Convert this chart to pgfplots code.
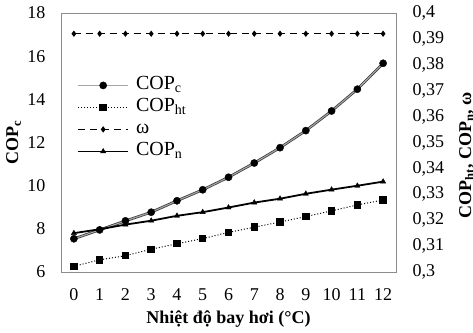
\documentclass[border=0pt]{standalone}
\usepackage{pgfplots}
\pgfplotsset{compat=1.18}
\usepackage{fontspec}
\setmainfont{Liberation Serif}
\definecolor{frame}{RGB}{140,140,140}
\pgfplotstableread{
x c ht om n
0 7.54 0.3022 0.392 0.3150
1 7.95 0.3047 0.392 0.3165
2 8.37 0.3063 0.392 0.3183
3 8.77 0.3088 0.392 0.3198
4 9.30 0.3109 0.392 0.3217
5 9.81 0.3129 0.392 0.3231
6 10.39 0.3153 0.392 0.3249
7 11.05 0.3173 0.392 0.3268
8 11.76 0.3193 0.392 0.3283
9 12.55 0.3214 0.392 0.3302
10 13.46 0.3236 0.392 0.3318
11 14.47 0.3259 0.392 0.3333
12 15.67 0.3278 0.392 0.3349
}\data
\begin{document}
\begin{tikzpicture}
\pgfplotsset{
  common/.style={
    at={(0,0)}, anchor=south west,
    scale only axis, width=335pt, height=259pt,
    xmin=-0.5, xmax=12.5,
    major tick length=0pt,
    /pgf/number format/assume math mode=true,
    tick label style={font=\fontsize{18}{21}\selectfont},
    label style={font=\fontsize{18}{21}\selectfont\bfseries, inner sep=0pt},
    axis line style={frame, line width=0.8pt},
  },
  legimg/.style={legend image code/.code={
    \draw[mark repeat=2,mark phase=2,##1] plot coordinates {(0pt,0pt)(25pt,0pt)(50pt,0pt)};}},
}
\begin{axis}[common,
  ymin=6, ymax=18, ytick={6,8,...,18},
  xtick={0,...,12},
  xticklabel style={yshift=-13pt},
  yticklabel style={xshift=-12pt},
  xlabel={Nhiệt độ bay hơi (°C)},
  xlabel style={at={(axis description cs:0.5,-0.148)}, anchor=north},
  ylabel={COP\textsubscript{c}},
  ylabel style={at={(axis description cs:-0.164,0.5)}, anchor=north, rotate=0},
  legend style={at={(axis description cs:0.048,0.752)}, anchor=north west,
    draw=none, fill=none, inner sep=0pt,
    font=\fontsize{20}{23}\selectfont,
    nodes={inner sep=0pt, text height=12pt, text depth=4pt}, row sep=6pt,
    /tikz/every odd column/.append style={column sep=7pt}},
  legend cell align=left,
]
\addplot[gray!45!black, line width=2.6pt, forget plot] table[x=x,y=c]{\data};
\addplot[gray!70, line width=1.1pt, mark=*, mark size=3.6pt, mark options={black, fill=black, line width=0.4pt}, legimg] table[x=x,y=c]{\data};
\addlegendentry{COP\textsubscript{c}}
\addlegendimage{black, dotted, line width=1pt, mark=square*, mark size=3.2pt, mark options={solid}, legimg}
\addlegendentry{COP\textsubscript{ht}}
\addlegendimage{black, dash pattern=on 7pt off 5pt, line width=1.2pt, mark=diamond*, mark size=2.2pt, mark options={solid}, legimg}
\addlegendentry{ω}
\addlegendimage{black, line width=1.8pt, mark=triangle*, mark size=3pt, mark options={solid, line width=0.4pt}, legimg}
\addlegendentry{COP\textsubscript{n}}
\end{axis}
\begin{axis}[common,
  axis x line=none, axis y line*=right,
  ymin=0.3, ymax=0.4,
  ytick={0.30,0.31,0.32,0.33,0.34,0.35,0.36,0.37,0.38,0.39,0.40},
  /pgf/number format/use comma,
  yticklabel style={xshift=13pt},
  ylabel={COP\textsubscript{ht}, COP\textsubscript{n}, ω},
  ylabel style={at={(axis description cs:1.188,0.45)}, anchor=north, rotate=0},
]
\addplot[black, dotted, line width=1pt, mark=square*, mark size=3.2pt, mark options={solid}] table[x=x,y=ht]{\data};
\addplot[black, dash pattern=on 7pt off 5pt, line width=1.2pt, mark=diamond*, mark size=2.2pt, mark options={solid}] table[x=x,y=om]{\data};
\addplot[black, line width=1.8pt, mark=triangle*, mark size=3pt, mark options={solid, line width=0.4pt}] table[x=x,y=n]{\data};
\end{axis}
\pgfresetboundingbox
\path[use as bounding box] (-61pt,-60pt) rectangle (412pt,272pt);
\end{tikzpicture}
\end{document}
